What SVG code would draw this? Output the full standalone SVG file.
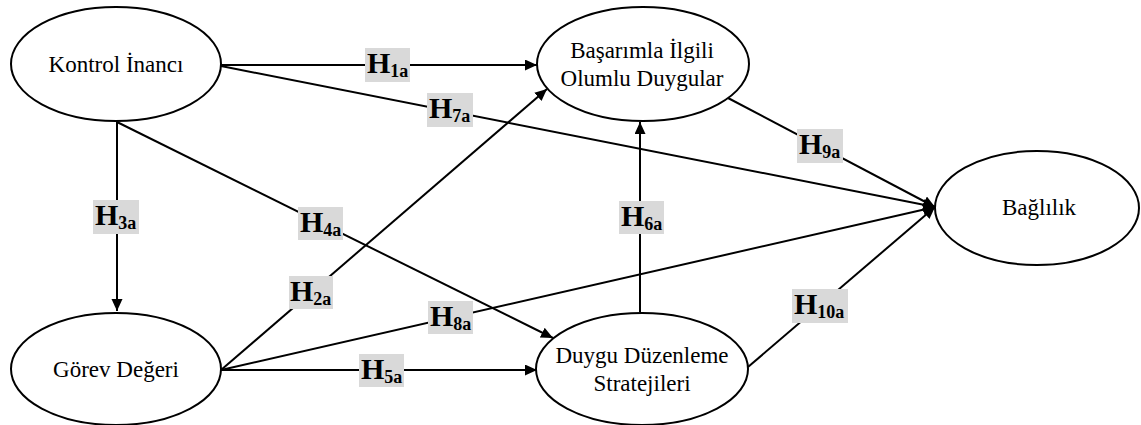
<svg xmlns="http://www.w3.org/2000/svg" width="1141" height="425" viewBox="0 0 1141 425">
<style>
.node ellipse{fill:#fff;stroke:#000;stroke-width:2}
.node text{font-family:'Liberation Serif','Times New Roman',serif;font-size:23px;text-anchor:middle;fill:#000}
.conn line{stroke:#000;stroke-width:2;fill:none}
.arr{marker-end:url(#ah)}
.lbl rect{fill:#d9d9d9;stroke:none}
.lbl text{font-family:'Liberation Serif','Times New Roman',serif;font-weight:bold;font-size:30px;fill:#000}
.lbl tspan{font-size:18px}
</style>
<defs>
<marker id="ah" markerUnits="userSpaceOnUse" markerWidth="13" markerHeight="12" refX="12" refY="5.5" orient="auto">
<path d="M0,0 L12,5.5 L0,11 z" fill="#000"/>
</marker>
</defs>
<rect width="1141" height="425" fill="#fff"/>
<g id="connectors" class="conn">
<line class="arr" x1="221" y1="65" x2="537" y2="65"/>
<line class="arr" x1="221" y1="66" x2="935" y2="207"/>
<line class="arr" x1="117" y1="121" x2="117" y2="311"/>
<line class="arr" x1="117" y1="122" x2="553" y2="338"/>
<line class="arr" x1="221" y1="370" x2="547" y2="89"/>
<line class="arr" x1="221" y1="370" x2="935" y2="207"/>
<line class="arr" x1="221" y1="370" x2="537" y2="370"/>
<line class="arr" x1="640" y1="312" x2="640" y2="122"/>
<line class="arr" x1="728" y1="98" x2="935" y2="207"/>
<line class="arr" x1="748" y1="367" x2="935" y2="207"/>
</g>
<g id="labels" class="lbl">
<g id="H1a"><rect x="365" y="48" width="45" height="34"/><text x="367" y="73">H<tspan dy="4">1a</tspan></text></g>
<g id="H7a"><rect x="427" y="93" width="46" height="34"/><text x="429" y="118">H<tspan dy="4">7a</tspan></text></g>
<g id="H3a"><rect x="93" y="200" width="46" height="34"/><text x="95" y="225">H<tspan dy="4">3a</tspan></text></g>
<g id="H4a"><rect x="298" y="207" width="45" height="33"/><text x="300" y="232">H<tspan dy="4">4a</tspan></text></g>
<g id="H2a"><rect x="289" y="276" width="44" height="33"/><text x="290" y="301">H<tspan dy="4">2a</tspan></text></g>
<g id="H8a"><rect x="428" y="301" width="45" height="33"/><text x="430" y="326">H<tspan dy="4">8a</tspan></text></g>
<g id="H5a"><rect x="359" y="354" width="45" height="33"/><text x="361" y="379">H<tspan dy="4">5a</tspan></text></g>
<g id="H6a"><rect x="619" y="201" width="45" height="33"/><text x="621" y="226">H<tspan dy="4">6a</tspan></text></g>
<g id="H9a"><rect x="797" y="129" width="46" height="34"/><text x="799" y="154">H<tspan dy="4">9a</tspan></text></g>
<g id="H10a"><rect x="792" y="289" width="56" height="34"/><text x="794" y="314">H<tspan dy="4">10a</tspan></text></g>
</g>
<g id="kontrol" class="node"><ellipse cx="116" cy="64" rx="105" ry="57"/><text x="116" y="72">Kontrol İnancı</text></g>
<g id="basarim" class="node"><ellipse cx="643" cy="64" rx="106" ry="57"/><text x="642" y="58">Başarımla İlgili</text><text x="642" y="86">Olumlu Duygular</text></g>
<g id="baglilik" class="node"><ellipse cx="1037" cy="208" rx="102" ry="57"/><text x="1039" y="215">Bağlılık</text></g>
<g id="gorev" class="node"><ellipse cx="116" cy="369" rx="105" ry="56"/><text x="116" y="377">Görev Değeri</text></g>
<g id="duygu" class="node"><ellipse cx="642" cy="369" rx="106" ry="56"/><text x="642" y="363">Duygu Düzenleme</text><text x="642" y="391">Stratejileri</text></g>
</svg>
